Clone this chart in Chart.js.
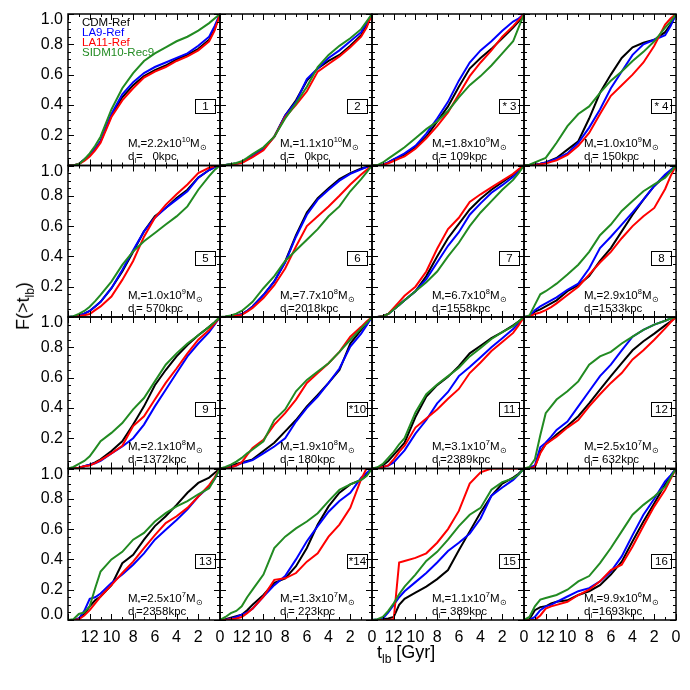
<!DOCTYPE html>
<html lang="en">
<head>
<meta charset="UTF-8">
<title>F(&gt;t_lb) - 16 dwarfs</title>
<script src="https://cdn.jsdelivr.net/npm/chart.js"></script>
<style>
    body { margin: 0; background: #fff; }
    #wrap {
        position: relative;
        width: 690px;
        height: 690px;
        font-family: "Liberation Sans", Arial, sans-serif;
        color: #000;
    }
    #chart { position: absolute; left: 0; top: 0; }
    .note { position: absolute; font-size: 11.5px; line-height: 12px; white-space: pre; }
    .note sub, .note sup { font-size: 7.5px; line-height: 0; }
    .tag {
        position: absolute; width: 19px; height: 13px; border: 1px solid #000;
        font-size: 11.5px; line-height: 13px; text-align: center; white-space: pre;
    }
    .legend { position: absolute; font-size: 11.5px; line-height: 10px; }
    .title { position: absolute; font-size: 18px; line-height: 18px; white-space: nowrap; }
    .title sub { font-size: 12px; line-height: 0; }
</style>
</head>
<body>
<div id="wrap">
    <canvas id="chart" width="690" height="690"></canvas>
</div>

<script>
// look-back time grid (Gyr), shared by every curve
const tlb = [14, 13.5, 13, 12.5, 12, 11.5, 11, 10, 9, 8, 7, 6, 5, 4, 3, 2, 1, 0.5, 0];

const models = ['CDM-Ref', 'LA9-Ref', 'LA11-Ref', 'SIDM10-Rec9'];
const colors = ['#000000', '#0000ff', '#ff0000', '#228b22'];

const panelTags = ['1', '2', '* 3', '* 4', '5', '6', '7', '8', '9', '*10', '11', '12', '13', '*14', '15', '16'];
const massMant = ['2.2', '1.1', '1.8', '1.0', '1.0', '7.7', '6.7', '2.9', '2.1', '1.9', '3.1', '2.5', '2.5', '1.3', '1.1', '9.9'];
const massExp = [10, 10, 9, 9, 9, 8, 8, 8, 8, 8, 7, 7, 7, 7, 7, 6];
const distKpc = ['   0', '   0', ' 109', ' 150', ' 570', '2018', '1558', '1533', '1372', ' 180', '2389', ' 632', '2358', ' 223', ' 389', '1693'];

// F(>t_lb), one row per panel
const cdm = [
    [0, 0, 0.01, 0.04, 0.07, 0.11, 0.16, 0.33, 0.45, 0.53, 0.59, 0.63, 0.66, 0.70, 0.73, 0.77, 0.83, 0.90, 1],
    [0, 0.003, 0.008, 0.013, 0.02, 0.04, 0.06, 0.11, 0.19, 0.33, 0.43, 0.56, 0.64, 0.69, 0.73, 0.79, 0.86, 0.92, 1],
    [0, 0, 0.005, 0.02, 0.04, 0.055, 0.07, 0.12, 0.19, 0.29, 0.39, 0.52, 0.64, 0.71, 0.77, 0.84, 0.91, 0.95, 1],
    [0, 0, 0.005, 0.012, 0.02, 0.035, 0.05, 0.105, 0.16, 0.31, 0.48, 0.60, 0.71, 0.78, 0.81, 0.83, 0.88, 0.93, 1],
    [0, 0.003, 0.01, 0.022, 0.04, 0.07, 0.10, 0.19, 0.30, 0.43, 0.565, 0.665, 0.72, 0.785, 0.84, 0.92, 0.97, 0.99, 1],
    [0, 0.001, 0.005, 0.01, 0.018, 0.04, 0.07, 0.145, 0.235, 0.365, 0.54, 0.69, 0.785, 0.85, 0.91, 0.95, 0.98, 0.99, 1],
    [0, 0, 0.005, 0.02, 0.05, 0.08, 0.11, 0.17, 0.27, 0.40, 0.52, 0.615, 0.71, 0.78, 0.84, 0.89, 0.94, 0.97, 1],
    [0, 0.005, 0.035, 0.05, 0.07, 0.09, 0.11, 0.17, 0.21, 0.27, 0.37, 0.455, 0.565, 0.675, 0.775, 0.865, 0.93, 0.965, 1],
    [0, 0, 0.005, 0.015, 0.025, 0.04, 0.06, 0.115, 0.18, 0.29, 0.41, 0.55, 0.65, 0.74, 0.815, 0.88, 0.935, 0.965, 1],
    [0, 0.005, 0.015, 0.03, 0.04, 0.05, 0.06, 0.115, 0.17, 0.245, 0.32, 0.41, 0.485, 0.565, 0.65, 0.825, 0.915, 0.96, 1],
    [0, 0.005, 0.02, 0.05, 0.09, 0.13, 0.17, 0.34, 0.475, 0.55, 0.605, 0.675, 0.76, 0.81, 0.86, 0.90, 0.945, 0.97, 1],
    [0, 0.002, 0.01, 0.11, 0.16, 0.19, 0.225, 0.28, 0.345, 0.43, 0.52, 0.61, 0.695, 0.78, 0.84, 0.89, 0.945, 0.97, 1],
    [0, 0, 0.01, 0.04, 0.09, 0.13, 0.155, 0.23, 0.375, 0.43, 0.53, 0.62, 0.685, 0.76, 0.84, 0.905, 0.94, 0.97, 1],
    [0, 0.005, 0.015, 0.025, 0.035, 0.065, 0.10, 0.165, 0.245, 0.275, 0.355, 0.475, 0.63, 0.75, 0.84, 0.895, 0.925, 0.955, 1],
    [0, 0, 0.005, 0.01, 0.02, 0.10, 0.14, 0.18, 0.22, 0.27, 0.33, 0.46, 0.585, 0.71, 0.82, 0.90, 0.94, 0.965, 1],
    [0, 0.005, 0.065, 0.085, 0.09, 0.11, 0.12, 0.13, 0.165, 0.19, 0.23, 0.30, 0.385, 0.52, 0.65, 0.77, 0.895, 0.945, 1]
];
const la9 = [
    [0, 0, 0.01, 0.04, 0.07, 0.11, 0.16, 0.34, 0.47, 0.55, 0.61, 0.65, 0.68, 0.71, 0.74, 0.79, 0.85, 0.92, 1],
    [0, 0.003, 0.008, 0.013, 0.02, 0.04, 0.06, 0.11, 0.19, 0.33, 0.42, 0.57, 0.64, 0.71, 0.76, 0.82, 0.88, 0.94, 1],
    [0, 0, 0.005, 0.02, 0.04, 0.06, 0.08, 0.13, 0.21, 0.31, 0.42, 0.56, 0.68, 0.76, 0.82, 0.89, 0.95, 0.97, 1],
    [0, 0, 0.005, 0.012, 0.02, 0.032, 0.045, 0.08, 0.15, 0.25, 0.37, 0.51, 0.62, 0.73, 0.80, 0.83, 0.86, 0.92, 1],
    [0, 0.003, 0.01, 0.022, 0.04, 0.07, 0.10, 0.19, 0.31, 0.44, 0.565, 0.655, 0.72, 0.775, 0.83, 0.92, 0.97, 0.99, 1],
    [0, 0.001, 0.005, 0.01, 0.018, 0.04, 0.07, 0.145, 0.235, 0.36, 0.53, 0.675, 0.775, 0.84, 0.90, 0.945, 0.975, 0.99, 1],
    [0, 0, 0.005, 0.02, 0.05, 0.08, 0.11, 0.17, 0.25, 0.36, 0.47, 0.56, 0.675, 0.75, 0.82, 0.87, 0.925, 0.96, 1],
    [0, 0.005, 0.045, 0.07, 0.09, 0.11, 0.13, 0.18, 0.22, 0.32, 0.455, 0.53, 0.61, 0.69, 0.775, 0.865, 0.94, 0.97, 1],
    [0, 0, 0.005, 0.015, 0.025, 0.035, 0.05, 0.10, 0.145, 0.20, 0.29, 0.41, 0.52, 0.63, 0.74, 0.825, 0.90, 0.95, 1],
    [0, 0.003, 0.01, 0.02, 0.035, 0.045, 0.055, 0.10, 0.145, 0.20, 0.31, 0.40, 0.475, 0.565, 0.66, 0.805, 0.89, 0.945, 1],
    [0, 0.002, 0.01, 0.02, 0.04, 0.08, 0.12, 0.23, 0.32, 0.43, 0.505, 0.61, 0.67, 0.735, 0.80, 0.86, 0.92, 0.96, 1],
    [0, 0.005, 0.02, 0.14, 0.17, 0.21, 0.255, 0.31, 0.41, 0.51, 0.61, 0.685, 0.78, 0.87, 0.915, 0.95, 0.975, 0.99, 1],
    [0, 0, 0.01, 0.06, 0.14, 0.15, 0.175, 0.245, 0.30, 0.365, 0.44, 0.53, 0.595, 0.66, 0.73, 0.815, 0.88, 0.93, 1],
    [0, 0, 0.01, 0.02, 0.035, 0.05, 0.075, 0.155, 0.23, 0.29, 0.40, 0.52, 0.62, 0.715, 0.785, 0.84, 0.94, 0.97, 1],
    [0, 0.003, 0.01, 0.05, 0.10, 0.15, 0.19, 0.25, 0.31, 0.38, 0.455, 0.51, 0.57, 0.67, 0.82, 0.875, 0.925, 0.96, 1],
    [0, 0, 0.02, 0.065, 0.09, 0.10, 0.12, 0.155, 0.19, 0.21, 0.255, 0.32, 0.42, 0.56, 0.695, 0.80, 0.915, 0.955, 1]
];
const la11 = [
    [0, 0, 0.01, 0.03, 0.06, 0.10, 0.15, 0.32, 0.43, 0.51, 0.58, 0.62, 0.65, 0.69, 0.72, 0.76, 0.82, 0.89, 1],
    [0, 0.002, 0.006, 0.011, 0.017, 0.035, 0.055, 0.10, 0.19, 0.32, 0.40, 0.49, 0.62, 0.67, 0.72, 0.78, 0.85, 0.91, 1],
    [0, 0, 0.004, 0.015, 0.03, 0.045, 0.06, 0.11, 0.18, 0.26, 0.35, 0.47, 0.59, 0.68, 0.76, 0.85, 0.92, 0.96, 1],
    [0, 0, 0.003, 0.008, 0.013, 0.024, 0.035, 0.07, 0.13, 0.215, 0.34, 0.46, 0.53, 0.60, 0.68, 0.79, 0.93, 0.97, 1],
    [0, 0.002, 0.006, 0.012, 0.02, 0.045, 0.07, 0.135, 0.245, 0.37, 0.53, 0.655, 0.74, 0.81, 0.875, 0.95, 0.985, 0.995, 1],
    [0, 0.001, 0.004, 0.008, 0.014, 0.035, 0.06, 0.125, 0.21, 0.32, 0.465, 0.60, 0.665, 0.73, 0.80, 0.875, 0.94, 0.97, 1],
    [0, 0, 0.005, 0.02, 0.06, 0.10, 0.14, 0.20, 0.30, 0.45, 0.58, 0.655, 0.76, 0.81, 0.855, 0.90, 0.945, 0.975, 1],
    [0, 0.002, 0.02, 0.03, 0.045, 0.065, 0.09, 0.145, 0.20, 0.28, 0.36, 0.43, 0.52, 0.60, 0.665, 0.72, 0.845, 0.93, 1],
    [0, 0, 0.005, 0.015, 0.02, 0.035, 0.055, 0.10, 0.15, 0.28, 0.345, 0.455, 0.565, 0.66, 0.76, 0.85, 0.915, 0.955, 1],
    [0, 0.002, 0.008, 0.02, 0.04, 0.09, 0.135, 0.19, 0.29, 0.365, 0.455, 0.565, 0.63, 0.695, 0.77, 0.87, 0.935, 0.97, 1],
    [0, 0.002, 0.01, 0.02, 0.06, 0.11, 0.15, 0.27, 0.33, 0.39, 0.46, 0.525, 0.63, 0.70, 0.775, 0.835, 0.895, 0.945, 1],
    [0, 0, 0.01, 0.10, 0.16, 0.185, 0.21, 0.27, 0.32, 0.41, 0.49, 0.565, 0.63, 0.72, 0.78, 0.85, 0.925, 0.965, 1],
    [0, 0, 0.005, 0.03, 0.065, 0.11, 0.155, 0.23, 0.31, 0.385, 0.475, 0.56, 0.64, 0.685, 0.74, 0.815, 0.89, 0.94, 1],
    [0, 0, 0.005, 0.01, 0.02, 0.045, 0.075, 0.155, 0.265, 0.275, 0.31, 0.385, 0.44, 0.55, 0.63, 0.74, 0.93, 1, 1],
    [0, 0, 0, 0, 0.005, 0.38, 0.39, 0.41, 0.44, 0.51, 0.60, 0.72, 0.90, 0.975, 1, 1, 1, 1, 1],
    [0, 0, 0, 0.03, 0.075, 0.09, 0.10, 0.12, 0.165, 0.20, 0.255, 0.33, 0.365, 0.485, 0.62, 0.75, 0.86, 0.93, 1]
];
const sidm = [
    [0, 0, 0.01, 0.04, 0.08, 0.13, 0.19, 0.37, 0.51, 0.61, 0.69, 0.74, 0.78, 0.82, 0.85, 0.89, 0.94, 0.97, 1],
    [0, 0.004, 0.01, 0.017, 0.028, 0.05, 0.075, 0.12, 0.19, 0.31, 0.41, 0.52, 0.65, 0.73, 0.79, 0.84, 0.90, 0.95, 1],
    [0, 0.003, 0.02, 0.045, 0.07, 0.095, 0.12, 0.18, 0.24, 0.29, 0.36, 0.45, 0.53, 0.59, 0.66, 0.74, 0.82, 0.91, 1],
    [0, 0.005, 0.02, 0.035, 0.05, 0.10, 0.15, 0.26, 0.34, 0.39, 0.48, 0.56, 0.62, 0.69, 0.75, 0.82, 0.91, 0.95, 1],
    [0, 0.005, 0.02, 0.04, 0.068, 0.105, 0.146, 0.234, 0.344, 0.433, 0.50, 0.554, 0.61, 0.664, 0.73, 0.84, 0.93, 0.97, 1],
    [0, 0.003, 0.01, 0.022, 0.04, 0.07, 0.10, 0.19, 0.27, 0.37, 0.44, 0.51, 0.58, 0.665, 0.73, 0.83, 0.91, 0.955, 1],
    [0, 0, 0.005, 0.02, 0.05, 0.08, 0.11, 0.17, 0.23, 0.30, 0.40, 0.49, 0.60, 0.69, 0.765, 0.84, 0.905, 0.95, 1],
    [0, 0.01, 0.08, 0.15, 0.17, 0.195, 0.22, 0.28, 0.345, 0.43, 0.54, 0.61, 0.70, 0.765, 0.83, 0.875, 0.92, 0.96, 1],
    [0, 0.01, 0.03, 0.05, 0.08, 0.13, 0.18, 0.235, 0.30, 0.39, 0.465, 0.575, 0.685, 0.76, 0.825, 0.88, 0.935, 0.965, 1],
    [0, 0.01, 0.025, 0.045, 0.07, 0.10, 0.125, 0.18, 0.32, 0.39, 0.51, 0.585, 0.64, 0.695, 0.77, 0.85, 0.925, 0.96, 1],
    [0, 0.008, 0.03, 0.07, 0.11, 0.16, 0.20, 0.37, 0.49, 0.555, 0.61, 0.665, 0.74, 0.795, 0.855, 0.90, 0.94, 0.97, 1],
    [0, 0.01, 0.06, 0.22, 0.365, 0.41, 0.455, 0.51, 0.575, 0.685, 0.74, 0.77, 0.825, 0.87, 0.915, 0.95, 0.975, 0.99, 1],
    [0, 0.005, 0.04, 0.05, 0.09, 0.21, 0.32, 0.40, 0.45, 0.53, 0.575, 0.65, 0.705, 0.75, 0.785, 0.83, 0.87, 0.93, 1],
    [0, 0.02, 0.045, 0.06, 0.09, 0.15, 0.20, 0.30, 0.475, 0.55, 0.605, 0.65, 0.705, 0.785, 0.86, 0.895, 0.925, 0.95, 1],
    [0, 0.005, 0.02, 0.06, 0.11, 0.17, 0.22, 0.30, 0.39, 0.45, 0.53, 0.62, 0.695, 0.74, 0.86, 0.91, 0.935, 0.96, 1],
    [0, 0.02, 0.09, 0.135, 0.145, 0.155, 0.165, 0.20, 0.255, 0.29, 0.375, 0.475, 0.585, 0.695, 0.76, 0.815, 0.88, 0.94, 1]
];
const series = [cdm, la9, la11, sidm];

// build datasets: panel p sits at row p/4, column p%4
const datasets = [];
for (let p = 0; p < 16; p++) {
    const r = Math.floor(p / 4), c = p % 4;
    series.forEach((s, m) => {
        datasets.push({
            label: models[m] + ' #' + (p + 1),
            data: tlb.map((t, i) => ({ x: t, y: s[p][i] })),
            xAxisID: 'x' + c,
            yAxisID: 'y' + r,
            borderColor: colors[m],
            borderWidth: 2,
            pointRadius: 0,
            fill: false,
            tension: 0,
            order: 3 - m
        });
    });
}

const tickFont = { family: 'Liberation Sans', size: 16 };
const scales = {};
for (let c = 0; c < 4; c++) {
    scales['x' + c] = {
        type: 'linear', position: 'bottom', stack: 'cols', stackWeight: 1, weight: c + 1,
        min: 0, max: 14, reverse: true,
        grid: { display: false, drawTicks: false },
        border: { display: false },
        ticks: {
            stepSize: 2, autoSkip: false, maxRotation: 0, padding: 8, color: '#000', font: tickFont,
            callback: v => (v === 14 ? '' : String(v))
        },
        afterFit: s => { s.height = 70; s.paddingLeft = 0; s.paddingRight = 0; }
    };
}
for (let r = 0; r < 4; r++) {
    scales['y' + r] = {
        type: 'linear', position: 'left', stack: 'rows', stackWeight: 1, weight: 4 - r,
        min: 0, max: 1,
        grid: { display: false, drawTicks: false },
        border: { display: false },
        ticks: {
            stepSize: 0.2, autoSkip: false, padding: 5, color: '#000',
            font: { family: 'Liberation Sans', size: 16, lineHeight: 0.7 },
            callback: v => {
                const s = v.toFixed(1);
                if (Math.abs(v - 1) < 1e-6) return ['', s];
                if (Math.abs(v) < 1e-6) return r === 3 ? [s, ''] : '';
                return s;
            }
        },
        afterFit: s => { s.width = 68; s.paddingTop = 0; s.paddingBottom = 0; }
    };
}

// panel frames with inward ticks on all four sides
const panelFrames = {
    id: 'panelFrames',
    afterDatasetsDraw(chart) {
        const ctx = chart.ctx;
        ctx.save();
        ctx.strokeStyle = '#000';
        ctx.lineWidth = 1;
        for (let r = 0; r < 4; r++) {
            for (let c = 0; c < 4; c++) {
                const xs = chart.scales['x' + c], ys = chart.scales['y' + r];
                ctx.beginPath();
                for (let t = 0; t <= 14; t++) {
                    const px = Math.round(xs.getPixelForValue(t)) + 0.5;
                    const len = t % 2 === 0 ? 6 : 3;
                    ctx.moveTo(px, ys.bottom); ctx.lineTo(px, ys.bottom - len);
                    ctx.moveTo(px, ys.top); ctx.lineTo(px, ys.top + len);
                }
                for (let k = 0; k <= 20; k++) {
                    const py = Math.round(ys.getPixelForValue(k * 0.05)) + 0.5;
                    const len = k % 4 === 0 ? 6 : 3;
                    ctx.moveTo(xs.left, py); ctx.lineTo(xs.left + len, py);
                    ctx.moveTo(xs.right, py); ctx.lineTo(xs.right - len, py);
                }
                ctx.stroke();
                ctx.lineWidth = 1.5;
                ctx.strokeRect(xs.left, ys.top, xs.right - xs.left, ys.bottom - ys.top);
                ctx.lineWidth = 1;
            }
        }
        ctx.restore();
    }
};

const chart = new Chart(document.getElementById('chart'), {
    type: 'line',
    data: { datasets },
    options: {
        responsive: false,
        animation: false,
        events: [],
        layout: { padding: { left: 0, top: 14, right: 14, bottom: 0 } },
        scales,
        plugins: { legend: { display: false }, tooltip: { enabled: false } }
    },
    plugins: [panelFrames]
});

// text labels on top of the canvas
const wrap = document.getElementById('wrap');
function addDiv(cls, html, x, y) {
    const d = document.createElement('div');
    d.className = cls;
    d.innerHTML = html;
    d.style.left = x + 'px';
    d.style.top = y + 'px';
    wrap.appendChild(d);
    return d;
}

for (let p = 0; p < 16; p++) {
    const xs = chart.scales['x' + (p % 4)], ys = chart.scales['y' + Math.floor(p / 4)];
    const L = xs.left, T = ys.top;
    addDiv('tag', panelTags[p], L + 127, T + 85);
    addDiv('note', 'M<sub>*</sub>=' + massMant[p] + 'x10<sup>' + massExp[p] + '</sup>M<sub>&#8857;</sub>', L + 60, T + 123);
    addDiv('note', 'd<sub>l</sub>=' + distKpc[p] + 'kpc', L + 60, T + 136);
}

const lg = addDiv('legend', '', chart.scales.x0.left + 14, chart.scales.y0.top + 3);
models.forEach((m, i) => {
    const row = document.createElement('div');
    row.textContent = m;
    row.style.color = colors[i];
    lg.appendChild(row);
});

const xt = addDiv('title', 't<sub>lb</sub> [Gyr]', 0, 643);
xt.style.left = (406 - xt.offsetWidth / 2) + 'px';
const yt = addDiv('title', 'F(&gt;t<sub>lb</sub>)', 0, 0);
yt.style.left = (23 - yt.offsetWidth / 2) + 'px';
yt.style.top = (306 - yt.offsetHeight / 2) + 'px';
yt.style.transform = 'rotate(-90deg)';
</script>
</body>
</html>
